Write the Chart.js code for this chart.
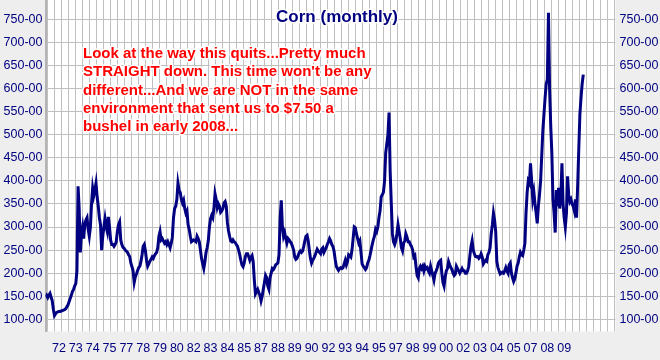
<!DOCTYPE html>
<html>
<head>
<meta charset="utf-8">
<script src="https://cdn.jsdelivr.net/npm/chart.js@4.4.0/dist/chart.umd.min.js"></script>
<style>
  html, body { margin: 0; padding: 0; background: #eeeeee; }
  #wrap { width: 660px; height: 360px; }
</style>
</head>
<body>
<div id="wrap"><canvas id="corn" width="660" height="360"></canvas></div>
<script>
// monthly corn price (cents/bu), Jan 1971 .. Dec 2010
const prices = [
  148,152,147,152,156,148,140,122,108,112,115,116, // 71
  117,117,118,119,120,121,123,127,131,138,145,152, // 72
  160,165,172,178,205,388,340,245,285,300,275,305, // 73
  315,320,295,280,300,350,384,368,380,395,365,345, // 74
  320,305,250,280,300,318,300,290,322,300,272,262, // 75
  262,258,262,268,290,305,311,272,262,256,254,250, // 76
  248,245,240,236,222,214,205,180,192,198,205,212, // 77
  215,225,240,258,262,248,228,215,220,226,230,235, // 78
  232,238,242,245,255,280,290,272,275,270,265,268, // 79
  262,268,262,255,265,278,320,340,345,360,395,380, // 80
  375,360,352,358,340,330,335,305,295,280,268,270, // 81
  272,270,268,280,275,268,250,232,220,210,225,245, // 82
  255,270,300,318,325,320,340,372,360,342,350,345, // 83
  332,335,340,352,355,345,310,292,280,270,268,272, // 84
  268,266,262,258,250,240,228,218,214,222,236,242, // 85
  242,236,228,234,238,225,185,155,160,165,158,152, // 86
  140,150,165,180,195,190,172,165,190,200,210,208, // 87
  212,218,220,222,240,320,358,300,280,288,275,265, // 88
  275,272,268,265,258,250,235,230,232,238,245,248, // 89
  245,248,258,270,280,282,270,250,232,222,228,232, // 90
  238,245,252,248,245,242,252,255,245,250,255,262, // 91
  268,275,270,262,258,248,230,215,210,206,210,212, // 92
  210,212,220,228,218,225,240,238,235,250,275,300, // 93
  298,285,275,265,270,245,220,215,212,208,212,222, // 94
  228,238,250,262,272,280,295,290,300,320,335,365, // 95
  370,375,400,460,480,500,548,420,350,285,268,262, // 96
  270,285,305,290,275,255,248,265,270,285,278,268, // 97
  268,262,258,250,235,238,215,195,190,210,215,210, // 98
  215,205,215,210,212,205,200,215,205,195,185,200, // 99
  205,212,222,226,228,200,180,172,192,205,210,225, // 00
  218,212,208,200,195,198,215,210,205,200,205,210, // 01
  205,205,200,200,205,215,238,258,270,250,242,236, // 02
  235,236,232,235,242,235,220,224,228,226,240,245, // 03
  255,285,305,330,315,290,225,212,205,198,200,202, // 04
  200,205,212,205,200,218,222,200,190,182,188,200, // 05
  215,222,235,245,240,238,250,265,330,375,400,395, // 06
  438,400,360,375,350,330,308,345,370,400,455,510, // 07
  545,580,610,620,764,600,520,460,360,330,288,380, // 08
  345,385,340,365,438,350,320,300,330,410,370,355, // 09
  360,350,345,335,360,320,390,470,545,580,610,630  // 10
];

// year labels, one every 15 months starting Jan 72
const xTickLabels = ['72','73','74','75','77','78','79','80','82','83','84','85','87','88','89',
  '90','92','93','94','95','97','98','99','00','02','03','04','05','07','08','09'];
const LABEL_START = 12;
const LABEL_STEP = 15;

const yTicks = [100,150,200,250,300,350,400,450,500,550,600,650,700,750];

const TITLE = 'Corn (monthly)';
const noteLines = [
  'Look at the way this quits...Pretty much',
  "STRAIGHT down. This time won't be any",
  'different...And we are NOT in the same',
  'environment that sent us to $7.50 a',
  'bushel in early 2008...'
];

const FONT = '"Liberation Sans", Arial, sans-serif';
const NAVY = '#000080';
const GRID = '#c0c0c0';
const Y_MIN = 73.6, Y_MAX = 791.8;

const bgPlugin = {
  id: 'bg',
  beforeDraw(chart) {
    const { ctx, chartArea: a } = chart;
    ctx.save();
    ctx.fillStyle = '#eeeeee';
    ctx.fillRect(0, 0, chart.width, chart.height);
    ctx.fillStyle = '#ffffff';
    ctx.fillRect(a.left, a.top, a.right - a.left, a.bottom - a.top);
    ctx.restore();
  }
};

const textPlugin = {
  id: 'texts',
  afterDraw(chart) {
    const c = chart.ctx;
    c.save();
    c.textBaseline = 'middle';
    c.lineJoin = 'round';
    c.strokeStyle = '#ffffff';
    c.lineWidth = 3;

    c.font = 'bold 17px ' + FONT;
    c.textAlign = 'center';
    c.strokeText(TITLE, 337, 17);
    c.fillStyle = NAVY;
    c.fillText(TITLE, 337, 17);

    c.font = 'bold 15px ' + FONT;
    c.textAlign = 'left';
    c.fillStyle = '#ff0000';
    noteLines.forEach((t, i) => {
      const y = 54 + i * 18.3;
      c.strokeText(t, 83, y);
      c.fillText(t, 83, y);
    });
    c.restore();
  }
};

const yAxis = (pos, width, pad) => ({
  type: 'linear',
  position: pos,
  min: Y_MIN,
  max: Y_MAX,
  afterBuildTicks(s) { s.ticks = yTicks.map(v => ({ value: v })); },
  ticks: {
    color: NAVY,
    padding: pad,
    font: { family: FONT, size: 12.5 },
    callback: v => v + '-00'
  },
  grid: { display: pos === 'left', color: GRID, lineWidth: 1, drawTicks: false },
  border: { display: pos === 'left', color: '#b4b4b4', width: 2 },
  afterFit(s) { s.width = width; s.paddingTop = 0; s.paddingBottom = 0; }
});

const ctx = document.getElementById('corn').getContext('2d');
const chart = new Chart(ctx, {
  type: 'line',
  data: {
    datasets: [{
      data: prices.map((v, i) => ({ x: i, y: v })),
      borderColor: NAVY,
      borderWidth: 3,
      pointRadius: 0,
      tension: 0,
      fill: false,
      xAxisID: 'x',
      yAxisID: 'y'
    }]
  },
  options: {
    responsive: false,
    animation: false,
    devicePixelRatio: 1,
    layout: { padding: 0 },
    plugins: { legend: { display: false }, tooltip: { enabled: false }, title: { display: false } },
    scales: {
      x: {
        type: 'linear',
        position: 'bottom',
        min: 0,
        max: 507.7,
        afterBuildTicks(s) {
          s.ticks = xTickLabels.map((l, i) => ({ value: LABEL_START + LABEL_STEP * i }));
        },
        ticks: {
          autoSkip: false,
          maxRotation: 0,
          padding: 9.5,
          color: NAVY,
          font: { family: FONT, size: 12.5 },
          callback: (v, i) => xTickLabels[i]
        },
        grid: { display: false, drawTicks: false },
        border: { display: false },
        afterFit(s) { s.height = 28.5; s.paddingLeft = 0; s.paddingRight = 0; }
      },
      xg: {
        type: 'linear',
        position: 'top',
        min: -0.26,
        max: 81.17,
        afterBuildTicks(s) {
          const t = [];
          for (let k = 0; k <= 81; k++) t.push({ value: k });
          s.ticks = t;
        },
        ticks: { display: false },
        grid: { color: GRID, lineWidth: 1, drawTicks: false },
        border: { display: false },
        afterFit(s) { s.height = 0; s.paddingLeft = 0; s.paddingRight = 0; }
      },
      y: yAxis('left', 45.5, 3),
      y2: yAxis('right', 44.5, 4)
    }
  },
  plugins: [bgPlugin, textPlugin]
});
</script>
</body>
</html>
